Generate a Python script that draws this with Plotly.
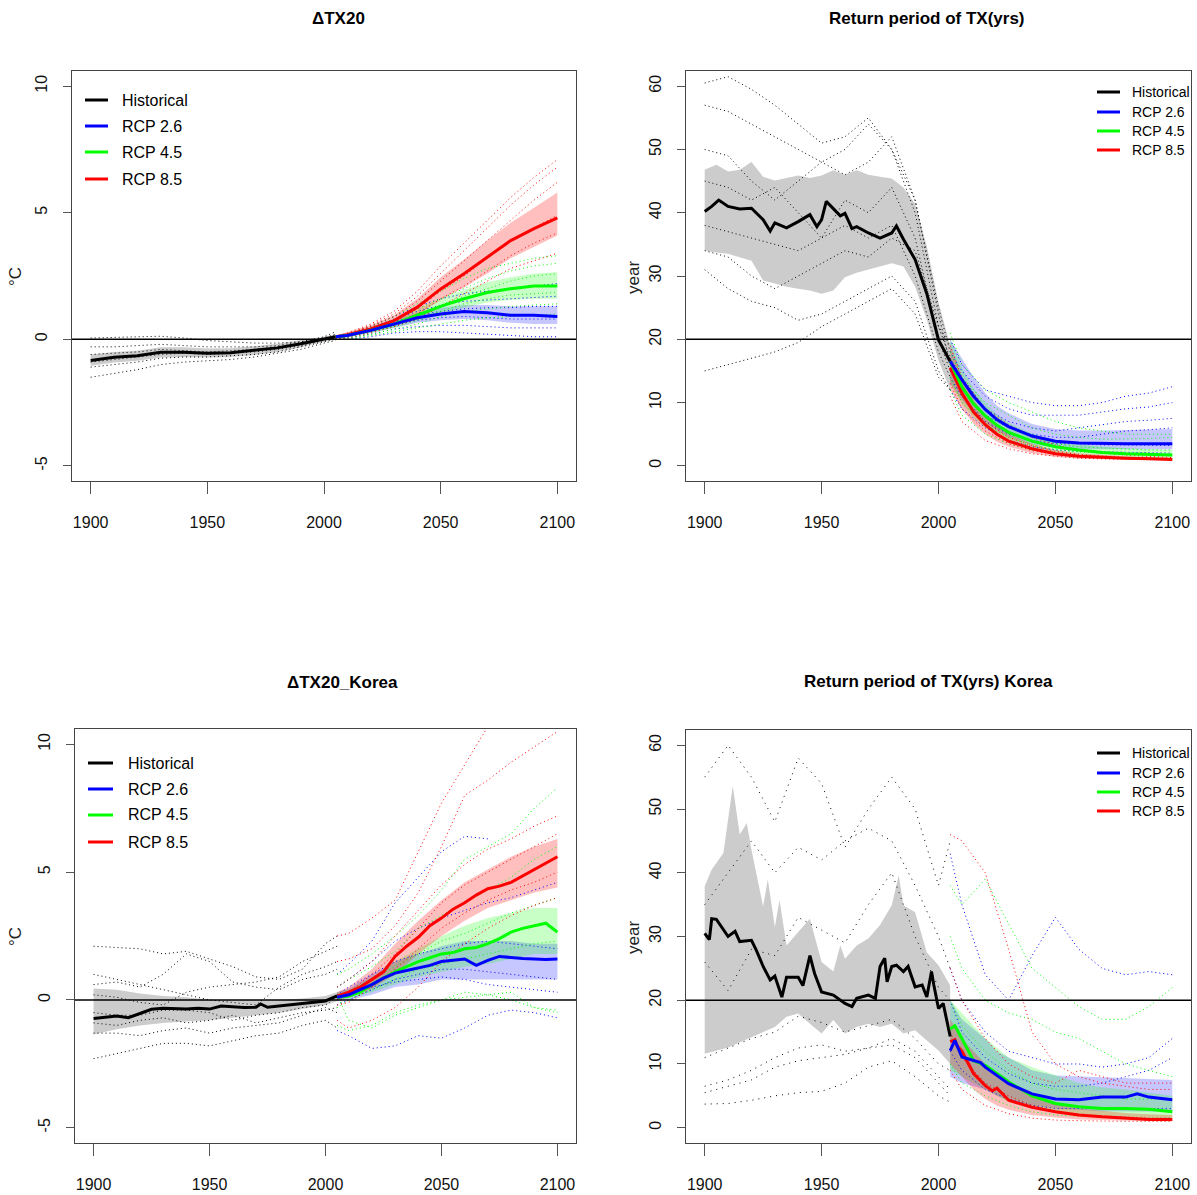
import plotly.graph_objects as go

W, H = 1197, 1195

# ------------------------------------------------------------------
# Shared year grids
# ------------------------------------------------------------------
YRS_H = [1900, 1910, 1920, 1930, 1940, 1950, 1960, 1970, 1980, 1990, 2000, 2005]
YRS_R = [2005, 2010, 2020, 2030, 2040, 2050, 2060, 2070, 2080, 2090, 2100]
YRS_RP = [2005, 2010, 2015, 2020, 2025, 2030, 2040, 2050, 2060, 2070, 2080, 2090, 2100]
YRS_K5 = [2005, 2010, 2015, 2020, 2025, 2030, 2035, 2040, 2045, 2050,
          2055, 2060, 2065, 2070, 2075, 2080, 2085, 2090, 2095, 2100]

X_TICKS = [1900, 1950, 2000, 2050, 2100]
TEMP_TICKS = [-5, 0, 5, 10]
RP_TICKS = [0, 10, 20, 30, 40, 50, 60]

TITLES = ["ΔTX20", "Return period of TX(yrs)", "ΔTX20_Korea", "Return period of TX(yrs) Korea"]
LEGEND_LABELS = ["Historical", "RCP 2.6", "RCP 4.5", "RCP 8.5"]
LEGEND_COLORS = ["#000000", "#0000FF", "#00FF00", "#FF0000"]

# ------------------------------------------------------------------
# Panel 1 : ΔTX20 (global)
# ------------------------------------------------------------------
P1_HIST_MEAN = [-0.84, -0.71, -0.65, -0.51, -0.51, -0.55, -0.53, -0.45, -0.34, -0.18, 0.01, 0.10]
P1_HIST_LO = [-1.05, -0.92, -0.85, -0.72, -0.70, -0.72, -0.70, -0.62, -0.50, -0.32, -0.10, 0.00]
P1_HIST_HI = [-0.60, -0.50, -0.45, -0.32, -0.32, -0.36, -0.35, -0.28, -0.18, -0.05, 0.10, 0.20]
P1_HIST_MEMBERS = [
    [0.05, 0.08, 0.10, 0.12, 0.05, -0.05, -0.10, -0.15, -0.15, -0.10, 0.05, 0.20],
    [-0.30, -0.30, -0.25, -0.20, -0.25, -0.30, -0.30, -0.30, -0.25, -0.10, 0.10, 0.30],
    [-0.60, -0.55, -0.50, -0.40, -0.45, -0.50, -0.45, -0.40, -0.30, -0.20, 0.00, 0.15],
    [-0.90, -0.80, -0.70, -0.60, -0.55, -0.60, -0.55, -0.50, -0.40, -0.25, -0.05, 0.05],
    [-1.10, -1.00, -0.90, -0.75, -0.70, -0.70, -0.65, -0.60, -0.50, -0.30, -0.10, 0.00],
    [-1.50, -1.35, -1.20, -1.00, -0.90, -0.85, -0.80, -0.70, -0.55, -0.40, -0.15, -0.05],
]
P1_R26_MEAN = [0.10, 0.15, 0.35, 0.60, 0.85, 1.00, 1.10, 1.05, 0.95, 0.95, 0.90]
P1_R26_LO = [0.05, 0.10, 0.25, 0.45, 0.65, 0.75, 0.80, 0.75, 0.65, 0.60, 0.60]
P1_R26_HI = [0.15, 0.22, 0.45, 0.75, 1.05, 1.25, 1.35, 1.35, 1.30, 1.30, 1.30]
P1_R26_MEMBERS = [
    [0.10, 0.20, 0.50, 0.90, 1.30, 1.60, 1.80, 1.90, 2.00, 2.10, 2.20],
    [0.10, 0.20, 0.45, 0.80, 1.10, 1.35, 1.50, 1.55, 1.60, 1.65, 1.70],
    [0.05, 0.15, 0.40, 0.70, 0.95, 1.10, 1.20, 1.25, 1.25, 1.30, 1.30],
    [0.05, 0.10, 0.30, 0.55, 0.75, 0.85, 0.90, 0.85, 0.80, 0.80, 0.80],
    [0.00, 0.05, 0.20, 0.40, 0.50, 0.55, 0.55, 0.50, 0.45, 0.45, 0.45],
    [0.00, 0.00, 0.10, 0.25, 0.30, 0.30, 0.25, 0.20, 0.15, 0.10, 0.10],
]
P1_R45_MEAN = [0.10, 0.15, 0.35, 0.60, 0.95, 1.30, 1.60, 1.85, 2.00, 2.10, 2.10]
P1_R45_LO = [0.05, 0.10, 0.25, 0.45, 0.70, 1.00, 1.25, 1.45, 1.55, 1.60, 1.60]
P1_R45_HI = [0.15, 0.22, 0.45, 0.75, 1.20, 1.60, 1.95, 2.25, 2.45, 2.60, 2.65]
P1_R45_MEMBERS = [
    [0.10, 0.20, 0.50, 0.90, 1.40, 1.90, 2.40, 2.80, 3.00, 3.20, 3.30],
    [0.10, 0.20, 0.45, 0.80, 1.20, 1.60, 2.00, 2.40, 2.70, 2.90, 3.00],
    [0.05, 0.15, 0.40, 0.65, 1.00, 1.35, 1.70, 2.00, 2.30, 2.50, 2.60],
    [0.05, 0.10, 0.30, 0.50, 0.80, 1.10, 1.40, 1.60, 1.75, 1.80, 1.85],
    [0.00, 0.05, 0.20, 0.40, 0.60, 0.90, 1.10, 1.20, 1.30, 1.35, 1.40],
    [0.00, 0.00, 0.15, 0.30, 0.45, 0.60, 0.75, 0.85, 0.90, 0.95, 1.00],
]
P1_R85_MEAN = [0.10, 0.18, 0.41, 0.74, 1.27, 1.99, 2.59, 3.25, 3.90, 4.37, 4.80]
P1_R85_LO = [0.05, 0.10, 0.30, 0.55, 0.95, 1.55, 2.05, 2.60, 3.20, 3.65, 4.10]
P1_R85_HI = [0.15, 0.28, 0.55, 0.95, 1.60, 2.45, 3.15, 3.90, 4.60, 5.20, 5.80]
P1_R85_MEMBERS = [
    [0.10, 0.25, 0.60, 1.10, 1.90, 2.90, 3.80, 4.70, 5.60, 6.40, 7.10],
    [0.10, 0.20, 0.55, 1.00, 1.70, 2.60, 3.50, 4.40, 5.30, 6.10, 6.80],
    [0.10, 0.20, 0.50, 0.90, 1.50, 2.30, 3.10, 3.90, 4.70, 5.50, 6.20],
    [0.05, 0.15, 0.40, 0.70, 1.20, 1.90, 2.50, 3.20, 3.90, 4.40, 4.90],
    [0.00, 0.10, 0.30, 0.60, 1.00, 1.60, 2.10, 2.70, 3.30, 3.80, 4.20],
    [0.00, 0.05, 0.25, 0.50, 0.80, 1.30, 1.80, 2.30, 2.80, 3.10, 3.40],
]

# ------------------------------------------------------------------
# Panel 2 : Return period of TX (global)
# ------------------------------------------------------------------
P2_HIST_MEAN_YRS = [1900, 1903, 1906, 1910, 1915, 1920, 1925, 1928, 1930, 1935, 1940, 1945, 1948,
                    1950, 1952, 1955, 1958, 1960, 1963, 1965, 1970, 1975, 1980, 1982, 1985, 1990,
                    1995, 2000, 2003, 2005]
P2_HIST_MEAN = [40.2, 41.0, 42.0, 41.0, 40.6, 40.7, 38.9, 37.1, 38.4, 37.6, 38.6, 39.7, 37.8,
                38.9, 41.8, 40.7, 39.5, 39.9, 37.5, 37.8, 36.8, 36.0, 36.8, 37.9, 35.8, 32.6,
                27.2, 19.9, 18.0, 16.5]
P2_BAND_YRS = [1900, 1905, 1910, 1915, 1920, 1925, 1930, 1935, 1940, 1945, 1950, 1955, 1960,
               1965, 1970, 1975, 1980, 1985, 1990, 1995, 2000, 2005]
P2_HIST_HI = [46.8, 47.6, 46.5, 46.8, 48.0, 45.7, 45.1, 45.5, 45.9, 45.5, 45.9, 46.7, 46.0,
              46.7, 46.0, 45.7, 45.4, 44.0, 41.4, 34.7, 25.8, 19.0]
P2_HIST_LO = [34.0, 33.7, 33.5, 33.0, 32.4, 29.3, 28.8, 28.3, 28.0, 27.7, 27.2, 27.7, 29.8,
              30.5, 30.9, 31.5, 32.0, 31.5, 28.3, 23.1, 16.7, 12.0]
P2_HIST_MEMBERS = [
    [60.5, 61.5, 59.5, 57.0, 54.0, 51.0, 52.0, 55.0, 50.0, 42.0, 25.0, 18.0],
    [57.0, 56.0, 54.0, 52.0, 50.0, 48.0, 50.0, 54.0, 50.0, 40.0, 22.0, 17.0],
    [50.0, 49.0, 45.0, 42.0, 45.0, 48.0, 46.0, 48.0, 52.0, 42.0, 24.0, 16.0],
    [45.0, 44.0, 42.0, 44.0, 40.0, 36.0, 42.0, 40.0, 44.0, 36.0, 20.0, 15.0],
    [38.0, 37.0, 36.0, 35.0, 34.0, 36.0, 38.0, 36.0, 38.0, 30.0, 18.0, 14.0],
    [31.0, 28.0, 26.0, 25.0, 23.0, 24.0, 26.0, 28.0, 30.0, 26.0, 15.0, 12.0],
    [15.0, 16.0, 17.0, 18.0, 19.5, 22.0, 24.0, 26.0, 28.0, 24.0, 14.0, 12.0],
    [34.0, 33.0, 30.0, 28.0, 30.0, 32.0, 34.0, 33.0, 36.0, 34.0, 22.0, 19.0],
]
P2_R26_MEAN = [16.5, 13.6, 11.0, 8.9, 7.3, 6.2, 4.7, 3.9, 3.6, 3.5, 3.5, 3.5, 3.5]
P2_R26_LO = [13.0, 10.5, 8.5, 6.8, 5.5, 4.6, 3.4, 2.8, 2.6, 2.6, 2.6, 2.6, 2.6]
P2_R26_HI = [20.0, 17.0, 14.0, 11.5, 9.5, 8.3, 6.6, 5.8, 5.6, 5.6, 5.7, 5.8, 5.8]
P2_R45_MEAN = [16.5, 12.5, 9.8, 7.9, 6.4, 5.3, 3.9, 3.0, 2.5, 2.1, 1.9, 1.8, 1.7]
P2_R45_LO = [13.0, 9.8, 7.6, 6.0, 4.8, 3.9, 2.8, 2.1, 1.7, 1.4, 1.3, 1.2, 1.1]
P2_R45_HI = [20.0, 15.5, 12.2, 9.9, 8.1, 6.8, 5.1, 4.0, 3.4, 3.0, 2.8, 2.6, 2.5]
P2_R85_MEAN = [15.5, 11.5, 8.5, 6.5, 5.0, 3.9, 2.7, 1.9, 1.5, 1.3, 1.2, 1.1, 1.0]
P2_R85_LO = [12.0, 9.0, 6.6, 5.0, 3.8, 3.0, 2.0, 1.4, 1.1, 1.0, 0.95, 0.9, 0.85]
P2_R85_HI = [19.0, 14.0, 10.5, 8.0, 6.3, 5.0, 3.5, 2.5, 2.0, 1.7, 1.5, 1.4, 1.3]
P2_R26_MEMBERS = [
    [20.0, 16.0, 12.0, 11.0, 10.0, 9.5, 9.5, 10.0, 11.0, 11.5, 12.5],
    [18.0, 15.0, 11.0, 9.0, 8.0, 8.0, 8.0, 8.5, 9.0, 9.3, 10.0],
    [17.0, 14.0, 9.0, 7.0, 6.0, 5.5, 6.0, 6.5, 7.0, 7.2, 7.5],
    [15.0, 12.0, 8.0, 6.0, 5.0, 4.5, 4.5, 5.0, 5.5, 5.7, 6.0],
    [14.0, 11.0, 7.0, 5.0, 4.0, 3.5, 3.5, 3.3, 3.3, 3.3, 3.2],
    [12.0, 9.0, 6.0, 4.0, 3.0, 2.5, 2.3, 2.2, 2.2, 2.1, 2.0],
]
P2_R45_MEMBERS = [
    [21.0, 16.0, 12.0, 10.0, 8.5, 7.0, 6.0, 5.5, 5.0, 5.0, 5.0],
    [18.0, 14.0, 10.0, 8.0, 6.0, 5.0, 4.5, 4.2, 4.2, 4.3, 4.5],
    [16.0, 12.0, 8.0, 6.0, 4.5, 3.5, 3.0, 2.8, 2.6, 2.5, 2.5],
    [14.0, 10.0, 6.5, 4.5, 3.3, 2.6, 2.2, 2.0, 1.8, 1.7, 1.6],
    [12.0, 8.0, 5.0, 3.5, 2.5, 2.0, 1.6, 1.4, 1.3, 1.2, 1.1],
]
P2_R85_MEMBERS = [
    [19.0, 14.0, 9.0, 6.5, 4.5, 3.3, 2.5, 2.0, 1.7, 1.5, 1.3],
    [16.0, 11.0, 7.0, 4.5, 3.2, 2.3, 1.8, 1.5, 1.3, 1.2, 1.1],
    [13.0, 9.0, 5.5, 3.5, 2.4, 1.8, 1.4, 1.2, 1.1, 1.05, 1.0],
    [11.0, 7.0, 4.0, 2.7, 1.9, 1.5, 1.2, 1.1, 1.0, 1.0, 1.0],
]

# ------------------------------------------------------------------
# Panel 3 : ΔTX20 Korea
# ------------------------------------------------------------------
P3_HIST_MEAN_YRS = [1900, 1905, 1910, 1915, 1920, 1925, 1930, 1935, 1940, 1945, 1950, 1955,
                    1960, 1965, 1970, 1972, 1975, 1980, 1985, 1990, 1995, 2000, 2005]
P3_HIST_MEAN = [-0.73, -0.68, -0.63, -0.70, -0.53, -0.37, -0.33, -0.35, -0.36, -0.33, -0.36, -0.24,
                -0.26, -0.30, -0.29, -0.16, -0.29, -0.24, -0.20, -0.13, -0.08, -0.04, 0.16]
P3_HIST_LO = [-1.35, -1.15, -1.00, -0.90, -0.85, -0.80, -0.70, -0.60, -0.50, -0.35, -0.20, -0.05]
P3_HIST_HI = [0.45, 0.40, 0.25, 0.15, 0.10, 0.00, 0.00, 0.00, 0.00, 0.05, 0.15, 0.30]
P3_HIST_MEMBERS = [
    [2.10, 2.05, 2.00, 1.80, 1.90, 1.60, 1.30, 0.90, 0.80, 1.20, 2.20, 2.50],
    [1.00, 0.80, 0.60, 0.40, 0.20, 0.00, -0.10, -0.20, 0.50, 1.00, 1.30, 1.50],
    [0.60, 0.70, 0.50, 1.00, 1.80, 1.50, 0.70, 0.50, 0.40, 0.80, 1.00, 1.20],
    [-0.50, -0.60, -0.60, -0.40, -0.40, -0.50, -0.80, -0.60, -0.50, -0.30, -0.20, 0.10],
    [-1.30, -1.30, -1.40, -1.20, -1.10, -1.30, -1.10, -1.00, -0.90, -0.60, -0.30, -0.50],
    [-2.30, -2.10, -1.90, -1.70, -1.70, -1.80, -1.60, -1.40, -1.30, -1.00, -0.80, -1.10],
    [0.20, 0.10, -0.10, -0.20, 0.30, 0.50, 0.60, 0.70, 0.90, 1.50, 1.90, 2.10],
    [-0.90, -1.00, -0.80, -0.70, -0.90, -0.80, -0.60, -0.90, -0.70, -0.50, -0.40, -0.30],
]
P3_R26_MEAN = [0.10, 0.20, 0.40, 0.60, 0.85, 1.05, 1.15, 1.25, 1.35, 1.50,
               1.55, 1.60, 1.35, 1.55, 1.70, 1.65, 1.62, 1.60, 1.58, 1.60]
P3_R45_MEAN = [0.10, 0.15, 0.30, 0.60, 0.85, 1.10, 1.30, 1.50, 1.65, 1.80,
               1.85, 2.00, 2.05, 2.20, 2.40, 2.65, 2.80, 2.90, 3.00, 2.65]
P3_R85_MEAN = [0.15, 0.30, 0.50, 0.80, 1.10, 1.70, 2.10, 2.45, 2.90, 3.20,
               3.55, 3.80, 4.10, 4.35, 4.45, 4.60, 4.85, 5.10, 5.35, 5.60]
P3_R26_LO = [-0.05, 0.00, 0.20, 0.50, 0.60, 0.80, 0.80, 0.80, 0.80, 0.80, 0.80]
P3_R26_HI = [0.30, 0.45, 1.00, 1.50, 1.80, 2.10, 2.30, 2.30, 2.30, 2.20, 2.20]
P3_R45_LO = [0.00, 0.05, 0.30, 0.60, 0.90, 1.10, 1.30, 1.40, 1.60, 1.80, 1.80]
P3_R45_HI = [0.30, 0.40, 0.90, 1.50, 2.00, 2.50, 2.90, 3.20, 3.40, 3.60, 3.60]
P3_R85_LO = [0.00, 0.10, 0.45, 1.00, 1.80, 2.50, 3.10, 3.60, 3.90, 4.20, 4.40]
P3_R85_HI = [0.30, 0.50, 1.20, 2.20, 3.10, 3.90, 4.60, 5.10, 5.60, 6.00, 6.30]
P3_R26_MEMBERS = [
    [1.00, 1.40, 2.30, 3.80, 4.80, 5.80, 6.40, 6.30, None, None, None],
    [0.50, 0.80, 1.50, 2.30, 2.80, 3.20, 3.50, 3.80, 4.00, 4.30, 4.60],
    [0.20, 0.50, 1.00, 1.50, 1.80, 2.00, 2.20, 2.30, 2.20, 2.10, 2.00],
    [-0.20, 0.00, 0.40, 0.80, 1.00, 1.20, 1.20, 1.10, 1.00, 0.90, 0.80],
    [0.00, 0.20, 0.50, 0.70, 0.80, 0.90, 0.80, 0.60, 0.50, 0.40, 0.30],
    [-1.20, -1.40, -1.90, -1.80, -1.40, -1.50, -1.10, -0.60, -0.40, -0.50, -0.70],
]
P3_R45_MEMBERS = [
    [1.00, 1.20, 1.80, 2.50, 3.30, 4.30, 5.50, 6.00, 6.50, 7.50, 8.30],
    [0.50, 0.80, 1.30, 1.90, 2.80, 3.30, 3.80, 4.30, 4.80, 5.50, 6.00],
    [0.00, 0.30, 0.80, 1.30, 1.80, 2.30, 2.60, 3.00, 3.40, 3.70, 4.00],
    [-0.30, 0.00, 0.40, 0.80, 1.20, 1.40, 1.60, 1.80, 2.00, 2.20, 2.30],
    [-1.00, -1.20, -1.00, -0.50, -0.20, 0.00, 0.10, 0.20, 0.30, -0.30, -0.50],
    [0.20, -0.80, -1.10, -0.60, -0.30, 0.00, 0.30, 0.20, 0.00, -0.30, -0.40],
]
P3_R85_MEMBERS = [
    [2.50, 2.60, 3.20, 3.90, 5.80, 7.70, 9.20, 10.70, 11.50, 12.00, 12.50],
    [1.50, 1.60, 2.00, 2.90, 4.20, 6.00, 8.00, 8.60, 9.30, 9.90, 10.50],
    [0.50, 0.80, 1.50, 2.50, 3.50, 4.50, 5.30, 5.90, 6.30, 6.80, 7.20],
    [0.00, 0.30, 1.00, 1.80, 2.80, 3.80, 4.50, 5.00, 5.50, 6.00, 6.50],
    [-0.20, -0.10, 0.50, 1.20, 2.00, 2.80, 3.40, 3.90, 4.30, 4.60, 5.00],
    [-0.80, -1.10, -0.80, -0.30, 0.50, 1.50, 2.20, 2.80, 3.30, 3.70, 4.00],
]

# ------------------------------------------------------------------
# Panel 4 : Return period of TX Korea
# ------------------------------------------------------------------
P4_HIST_MEAN_YRS = [1900, 1902, 1903, 1905, 1910, 1913, 1915, 1920, 1922, 1925, 1928, 1930, 1933,
                    1935, 1940, 1942, 1945, 1947, 1950, 1955, 1960, 1963, 1965, 1970, 1973, 1975,
                    1977, 1978, 1980, 1982, 1985, 1987, 1990, 1993, 1995, 1997, 1998, 2000, 2002, 2005]
P4_HIST_MEAN = [30.5, 29.5, 32.8, 32.7, 30.0, 30.8, 29.2, 29.4, 27.9, 25.3, 23.2, 23.8, 20.5,
                23.6, 23.6, 22.3, 27.0, 24.2, 21.3, 20.8, 19.5, 19.0, 20.3, 20.8, 20.3, 25.3,
                26.6, 22.9, 25.3, 25.5, 24.5, 25.3, 22.1, 22.4, 20.5, 24.5, 22.4, 18.7, 19.5, 14.3]
P4_HI_YRS = [1900, 1903, 1908, 1912, 1915, 1918, 1920, 1925, 1927, 1930, 1932, 1935, 1940, 1945,
             1950, 1955, 1958, 1960, 1965, 1970, 1975, 1980, 1983, 1985, 1990, 1995, 2000, 2005]
P4_HIST_HI = [37.9, 40.5, 43.1, 53.6, 46.0, 47.8, 43.6, 34.7, 39.0, 31.5, 35.7, 28.6, 30.7, 32.8,
              26.0, 24.5, 28.6, 26.5, 28.6, 29.7, 31.8, 34.9, 39.6, 34.9, 33.8, 27.5, 25.5, 22.3]
P4_LO_YRS = [1900, 1910, 1920, 1930, 1935, 1940, 1945, 1950, 1955, 1960, 1965, 1970, 1975,
             1980, 1985, 1990, 1995, 2000, 2005]
P4_HIST_LO = [11.6, 12.6, 14.2, 15.8, 17.4, 17.9, 16.3, 14.8, 16.9, 14.8, 15.8, 16.3, 15.8,
              16.3, 14.8, 15.3, 13.7, 12.1, 10.0]
P4_HIST_MEMBERS = [
    [3.7, 3.8, 4.3, 5.0, 5.5, 5.7, 7.0, 9.5, 10.5, 8.0, 5.0, 4.0],
    [5.5, 6.5, 7.5, 9.5, 10.5, 11.0, 11.5, 12.5, 14.0, 12.0, 8.0, 6.0],
    [6.5, 7.5, 9.0, 11.0, 12.5, 13.0, 12.0, 12.5, 13.0, 11.0, 7.0, 5.0],
    [11.0, 12.5, 14.0, 15.0, 17.5, 16.5, 15.0, 16.0, 17.0, 14.0, 10.0, 9.0],
    [26.0, 21.5, 28.0, 27.0, 33.0, 31.0, 29.0, 35.0, 40.0, 30.0, 22.0, 20.0],
    [35.0, 40.0, 45.0, 40.0, 44.0, 42.0, 45.0, 47.0, 45.0, 38.0, 30.0, 25.0],
    [55.0, 60.0, 55.0, 48.0, 58.0, 54.0, 44.0, 50.0, 55.0, 50.0, 38.0, 45.0],
]
P4_R26_YRS = [2005, 2007, 2010, 2013, 2015, 2018, 2020, 2025, 2030, 2040, 2050, 2060, 2070, 2080,
              2085, 2090, 2100]
P4_R26_MEAN = [12.1, 13.7, 11.1, 10.8, 10.6, 10.2, 9.5, 8.2, 6.9, 5.3, 4.5, 4.4, 4.8, 4.8, 5.3, 4.8, 4.4]
P4_R45_YRS = [2005, 2007, 2010, 2015, 2020, 2025, 2030, 2040, 2050, 2060, 2070, 2080, 2090, 2100]
P4_R45_MEAN = [15.5, 16.0, 14.0, 10.5, 9.8, 8.5, 7.2, 5.0, 3.8, 3.3, 3.0, 3.0, 2.9, 2.5]
P4_R85_YRS = [2005, 2007, 2008, 2010, 2015, 2020, 2023, 2025, 2030, 2040, 2050, 2060, 2070, 2080,
              2090, 2100]
P4_R85_MEAN = [13.5, 13.8, 12.8, 12.0, 8.5, 6.6, 5.8, 6.2, 4.3, 3.2, 2.5, 2.0, 1.7, 1.5, 1.3, 1.3]
P4_R26_LO = [8.0, 7.0, 6.5, 6.0, 5.0, 4.3, 3.5, 3.0, 2.8, 2.6, 2.5, 2.5, 2.5]
P4_R26_HI = [20.0, 17.0, 15.5, 14.0, 12.0, 11.0, 9.0, 8.2, 8.0, 7.9, 7.8, 7.7, 7.5]
P4_R45_LO = [9.0, 8.0, 7.0, 6.0, 5.0, 4.0, 3.0, 2.4, 2.0, 1.8, 1.6, 1.5, 1.5]
P4_R45_HI = [20.0, 18.0, 16.0, 14.0, 12.5, 11.0, 9.5, 8.2, 7.0, 6.3, 6.0, 5.5, 5.0]
P4_R85_LO = [10.0, 8.0, 6.0, 4.5, 3.5, 2.8, 2.0, 1.6, 1.3, 1.2, 1.1, 1.0, 1.0]
P4_R85_HI = [17.0, 14.0, 12.0, 10.0, 8.5, 7.0, 5.0, 3.8, 3.0, 2.6, 2.3, 2.1, 2.0]
P4_R26_MEMBERS = [
    [43.0, 35.0, 24.0, 20.0, 27.0, 33.0, 28.0, 25.0, 24.0, 24.5, 24.0],
    [25.0, 20.0, 15.0, 12.0, 11.0, 10.0, 10.0, 9.5, 10.0, 11.0, 14.0],
    [20.0, 15.0, 11.0, 8.5, 7.0, 6.5, 6.5, 7.0, 8.0, 9.0, 11.0],
    [12.0, 9.0, 6.0, 4.5, 3.5, 3.0, 3.0, 3.0, 3.0, 3.0, 3.0],
]
P4_R45_MEMBERS = [
    [38.0, 35.0, 39.0, 32.0, 25.0, 22.0, 19.0, 17.0, 17.0, 19.0, 22.0],
    [30.0, 25.0, 20.0, 18.0, 17.0, 15.0, 14.0, 12.0, 10.0, 9.0, 8.0],
    [20.0, 16.0, 12.0, 9.0, 7.0, 6.0, 5.5, 5.0, 4.5, 4.5, 4.5],
    [10.0, 7.0, 5.0, 3.5, 2.5, 2.0, 1.8, 1.6, 1.5, 1.5, 1.5],
]
P4_R85_MEMBERS = [
    [46.0, 45.0, 40.0, 28.0, 15.0, 10.0, 8.0, 7.0, 6.5, 6.0, 6.0],
    [25.0, 20.0, 14.0, 10.0, 8.0, 7.0, 9.0, 8.0, 7.0, 7.0, 7.0],
    [15.0, 11.0, 7.0, 5.0, 3.5, 2.5, 2.0, 1.8, 1.6, 1.5, 1.5],
    [9.0, 6.0, 3.5, 2.2, 1.5, 1.2, 1.1, 1.0, 1.0, 1.0, 1.0],
]

# ------------------------------------------------------------------
# Styling constants
# ------------------------------------------------------------------
FONT = "Liberation Sans, Arial, sans-serif"
GRAY_BAND = "rgb(204,204,204)"
BAND_COL = {"26": "rgba(0,0,255,0.22)", "45": "rgba(0,255,0,0.22)", "85": "rgba(255,0,0,0.25)"}
LINE_COL = {"h": "#000000", "26": "#0000FF", "45": "#00FF00", "85": "#FF0000"}
DOT = "1px,3px"
DOT_SPARSE = "1px,5px"

# panel boxes in pixels: (left, right, top, bottom)
BOX = {1: (72, 576, 71, 481), 2: (686, 1191, 71, 481),
       3: (75, 576, 729, 1143), 4: (686, 1191, 730, 1143)}

fig = go.Figure()


def axid(i):
    return ("x", "y") if i == 1 else (f"x{i}", f"y{i}")


def band(i, xs_hi, hi, xs_lo, lo, color):
    xa, ya = axid(i)
    fig.add_trace(go.Scatter(x=list(xs_hi) + list(xs_lo)[::-1], y=list(hi) + list(lo)[::-1],
                             fill="toself", fillcolor=color, mode="lines", line=dict(width=0),
                             hoverinfo="skip", showlegend=False, xaxis=xa, yaxis=ya))


def line(i, xs, ys, color, width, dash=None):
    xa, ya = axid(i)
    fig.add_trace(go.Scatter(x=xs, y=ys, mode="lines",
                             line=dict(color=color, width=width, dash=dash),
                             connectgaps=False, hoverinfo="skip", showlegend=False,
                             xaxis=xa, yaxis=ya))


PANELS = {
    1: dict(hist_band=(YRS_H, P1_HIST_HI, YRS_H, P1_HIST_LO),
            rcp_bands=[("26", YRS_R, P1_R26_HI, P1_R26_LO), ("45", YRS_R, P1_R45_HI, P1_R45_LO),
                       ("85", YRS_R, P1_R85_HI, P1_R85_LO)],
            hist_members=P1_HIST_MEMBERS, hist_dash=DOT,
            rcp_members=[("26", P1_R26_MEMBERS), ("45", P1_R45_MEMBERS), ("85", P1_R85_MEMBERS)],
            hist_mean=(YRS_H, P1_HIST_MEAN),
            rcp_means=[("85", YRS_R, P1_R85_MEAN), ("45", YRS_R, P1_R45_MEAN), ("26", YRS_R, P1_R26_MEAN)],
            hline=0),
    2: dict(hist_band=(P2_BAND_YRS, P2_HIST_HI, P2_BAND_YRS, P2_HIST_LO),
            rcp_bands=[("26", YRS_RP, P2_R26_HI, P2_R26_LO), ("45", YRS_RP, P2_R45_HI, P2_R45_LO),
                       ("85", YRS_RP, P2_R85_HI, P2_R85_LO)],
            hist_members=P2_HIST_MEMBERS, hist_dash=DOT,
            rcp_members=[("26", P2_R26_MEMBERS), ("45", P2_R45_MEMBERS), ("85", P2_R85_MEMBERS)],
            hist_mean=(P2_HIST_MEAN_YRS, P2_HIST_MEAN),
            rcp_means=[("85", YRS_RP, P2_R85_MEAN), ("45", YRS_RP, P2_R45_MEAN), ("26", YRS_RP, P2_R26_MEAN)],
            hline=20),
    3: dict(hist_band=(YRS_H, P3_HIST_HI, YRS_H, P3_HIST_LO),
            rcp_bands=[("26", YRS_R, P3_R26_HI, P3_R26_LO), ("45", YRS_R, P3_R45_HI, P3_R45_LO),
                       ("85", YRS_R, P3_R85_HI, P3_R85_LO)],
            hist_members=P3_HIST_MEMBERS, hist_dash=DOT,
            rcp_members=[("26", P3_R26_MEMBERS), ("45", P3_R45_MEMBERS), ("85", P3_R85_MEMBERS)],
            hist_mean=(P3_HIST_MEAN_YRS, P3_HIST_MEAN),
            rcp_means=[("85", YRS_K5, P3_R85_MEAN), ("45", YRS_K5, P3_R45_MEAN), ("26", YRS_K5, P3_R26_MEAN)],
            hline=0),
    4: dict(hist_band=(P4_HI_YRS, P4_HIST_HI, P4_LO_YRS, P4_HIST_LO),
            rcp_bands=[("26", YRS_RP, P4_R26_HI, P4_R26_LO), ("45", YRS_RP, P4_R45_HI, P4_R45_LO),
                       ("85", YRS_RP, P4_R85_HI, P4_R85_LO)],
            hist_members=P4_HIST_MEMBERS, hist_dash=DOT_SPARSE,
            rcp_members=[("26", P4_R26_MEMBERS), ("45", P4_R45_MEMBERS), ("85", P4_R85_MEMBERS)],
            hist_mean=(P4_HIST_MEAN_YRS, P4_HIST_MEAN),
            rcp_means=[("85", P4_R85_YRS, P4_R85_MEAN), ("45", P4_R45_YRS, P4_R45_MEAN),
                       ("26", P4_R26_YRS, P4_R26_MEAN)],
            hline=20),
}

for i, p in PANELS.items():
    band(i, *p["hist_band"], GRAY_BAND)
    for key, xs, hi, lo in p["rcp_bands"]:
        band(i, xs, hi, xs, lo, BAND_COL[key])
    for m in p["hist_members"]:
        line(i, YRS_H, m, LINE_COL["h"], 1, p["hist_dash"])
    for key, members in p["rcp_members"]:
        for m in members:
            line(i, YRS_R, m, LINE_COL[key], 1, DOT)
    line(i, p["hist_mean"][0], p["hist_mean"][1], LINE_COL["h"], 3)
    for key, xs, ys in p["rcp_means"]:
        line(i, xs, ys, LINE_COL[key], 3)
    xa, ya = axid(i)
    fig.add_shape(type="line", xref=f"{xa} domain", yref=ya, x0=0, x1=1,
                  y0=p["hline"], y1=p["hline"], line=dict(color="black", width=1.5), layer="above")

# ------------------------------------------------------------------
# Axes
# ------------------------------------------------------------------
layout_axes = {}
for i in (1, 2, 3, 4):
    l, r, t, b = BOX[i]
    sfx = "" if i == 1 else str(i)
    temp = i in (1, 3)
    layout_axes[f"xaxis{sfx}"] = dict(
        domain=[l / W, r / W], range=[1892, 2108], anchor=f"y{sfx}",
        tickvals=X_TICKS, ticktext=[str(v) for v in X_TICKS],
        ticks="outside", ticklen=12, tickwidth=1, tickcolor="#555",
        showline=True, mirror=True, linecolor="#444", linewidth=1,
        showgrid=False, zeroline=False, ticklabelstandoff=15,
        tickfont=dict(family=FONT, size=16, color="#111"))
    layout_axes[f"yaxis{sfx}"] = dict(
        domain=[1 - b / H, 1 - t / H],
        range=[-5.6, 10.6] if temp else [-2.4, 62.4], anchor=f"x{sfx}",
        tickvals=TEMP_TICKS if temp else RP_TICKS,
        ticktext=[str(v) for v in (TEMP_TICKS if temp else RP_TICKS)],
        ticks="outside", ticklen=8, tickwidth=1, tickcolor="#555", tickangle=-90,
        showline=True, mirror=True, linecolor="#444", linewidth=1,
        showgrid=False, zeroline=False, ticklabelstandoff=10,
        tickfont=dict(family=FONT, size=16, color="#111"))

# ------------------------------------------------------------------
# Titles, axis titles, legends (annotations + shapes in paper coords)
# ------------------------------------------------------------------
annotations = []
TITLE_POS = [(338, 18), (927, 18), (342, 682), (928, 681)]
for txt, (x, y) in zip(TITLES, TITLE_POS):
    annotations.append(dict(text=f"<b>{txt}</b>", x=x / W, y=1 - y / H, xref="paper", yref="paper",
                            xanchor="center", yanchor="middle", showarrow=False,
                            font=dict(family=FONT, size=17, color="#000")))

YTITLES = [("°C", 15, 277), ("year", 633, 278), ("°C", 15, 937), ("year", 633, 938)]
for txt, x, y in YTITLES:
    annotations.append(dict(text=txt, x=x / W, y=1 - y / H, xref="paper", yref="paper",
                            xanchor="center", yanchor="middle", showarrow=False, textangle=-90,
                            font=dict(family=FONT, size=17, color="#222")))

LEGENDS = [  # (line x0, line x1, text x, row ys, font size)
    (85, 108, 120, [100, 126, 152, 179], 16),
    (1097, 1120, 1130, [92, 112, 131, 150], 14),
    (88, 113, 126, [763, 789, 815, 842], 16),
    (1097, 1120, 1130, [753, 773, 792, 811], 14),
]
shapes = []
for x0, x1, tx, rows, fs in LEGENDS:
    for lab, col, ry in zip(LEGEND_LABELS, LEGEND_COLORS, rows):
        shapes.append(dict(type="line", xref="paper", yref="paper", x0=x0 / W, x1=x1 / W,
                           y0=1 - ry / H, y1=1 - ry / H, line=dict(color=col, width=3)))
        annotations.append(dict(text=lab, x=tx / W, y=1 - ry / H, xref="paper", yref="paper",
                                xanchor="left", yanchor="middle", showarrow=False,
                                font=dict(family=FONT, size=fs, color="#000")))

fig.update_layout(
    width=W, height=H, margin=dict(l=0, r=0, t=0, b=0),
    paper_bgcolor="white", plot_bgcolor="white", showlegend=False,
    annotations=annotations, **layout_axes)
for s in shapes:
    fig.add_shape(**s)

fig.write_html("out.html")
